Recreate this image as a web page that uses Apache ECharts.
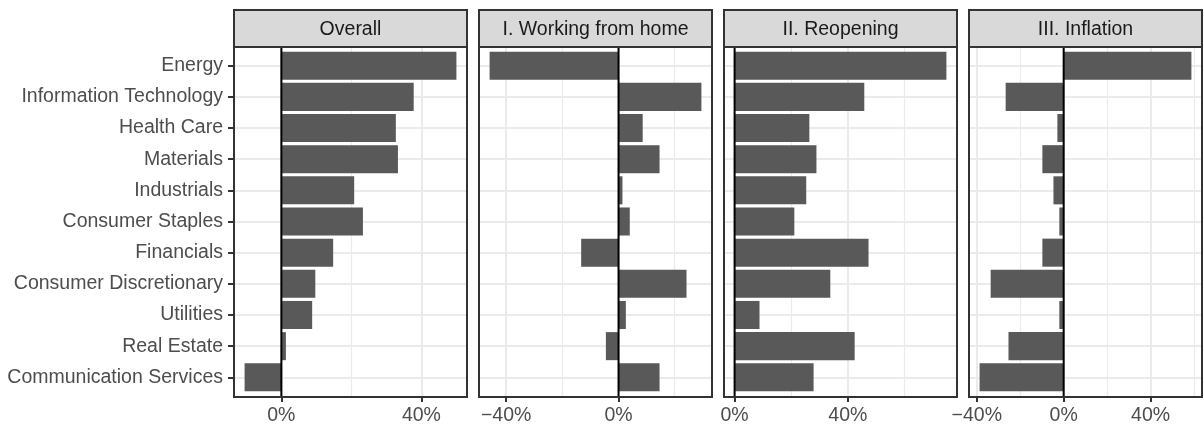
<!DOCTYPE html>
<html>
<head>
<meta charset="utf-8">
<title>Sector returns by regime</title>
<script src="https://cdn.jsdelivr.net/npm/echarts@6/dist/echarts.min.js"></script>
<style>
  html, body { margin: 0; padding: 0; background: #ffffff; }
  #chart { width: 1204px; height: 426px; }
</style>
</head>
<body>
<div id="chart"></div>
<script>
// ---- data -------------------------------------------------------------
const sectors = [
  'Energy', 'Information Technology', 'Health Care', 'Materials', 'Industrials',
  'Consumer Staples', 'Financials', 'Consumer Discretionary', 'Utilities',
  'Real Estate', 'Communication Services'
];
const panelTitles = ['Overall', 'I. Working from home', 'II. Reopening', 'III. Inflation'];

// returns in percent, one value per sector (same order as `sectors`)
const overall         = [50.0, 37.8, 32.7, 33.3, 20.8, 23.3, 14.8, 9.7, 8.8, 1.3, -10.5];
const workingFromHome = [-45.9, 29.5, 8.6, 14.6, 1.4, 4.0, -13.3, 24.2, 2.6, -4.5, 14.6];
const reopening       = [74.8, 45.8, 26.4, 28.9, 25.3, 21.1, 47.3, 33.8, 8.8, 42.4, 27.9];
const inflation       = [58.8, -26.7, -2.9, -9.8, -4.7, -2.0, -9.8, -33.6, -2.0, -25.4, -38.7];

const panelValues = [overall, workingFromHome, reopening, inflation];

// ---- layout -----------------------------------------------------------
const PANEL_LEFT = [234, 479, 724, 969];
const PANEL_W = 233;
const STRIP_TOP = 10;
const PANEL_TOP = 47;
const PANEL_H = 350;
const FONT = '"Liberation Sans", Arial, Helvetica, sans-serif';
const FS = 19.5;
const GRID_COLOR = '#EBEBEB';
const FRAME_COLOR = '#333333';
const BAR_COLOR = '#595959';

// discrete axis padded by 0.6 of a category on each side
const Y_MIN = -0.6;
const Y_MAX = sectors.length - 1 + 0.6;
const sectorIndex = sectors.map((_, i) => i);

function pctLabel(v) {
  const r = Math.round(v);
  return (r < 0 ? '\u2212' : '') + Math.abs(r) + '%';
}

// continuous axis range: data extent (incl. zero) widened by 5% each side
function paddedRange(vals) {
  const lo = Math.min(0, ...vals);
  const hi = Math.max(0, ...vals);
  const pad = (hi - lo) * 0.05;
  return [lo - pad, hi + pad];
}

function stepsWithin(range, step) {
  const out = [];
  for (let v = Math.ceil(range[0] / step) * step; v <= range[1] + 1e-9; v += step) out.push(v);
  return out;
}

const grids = [];
const xAxes = [];
const yAxes = [];
const series = [];
const graphics = [];

panelValues.forEach((vals, p) => {
  const range = paddedRange(vals);
  const major = stepsWithin(range, 40);
  const minor = stepsWithin(range, 20).filter(v => Math.abs(v % 40) > 1e-9);
  const left = PANEL_LEFT[p];

  grids.push({
    left: left, top: PANEL_TOP, width: PANEL_W, height: PANEL_H,
    show: false, containLabel: false
  });

  // major x axis (ticks, labels, major vertical grid)
  xAxes.push({
    type: 'value', gridIndex: p, position: 'bottom',
    min: range[0], max: range[1],
    axisLine: { show: false, onZero: false },
    axisTick: { show: true, customValues: major, length: 6, lineStyle: { color: FRAME_COLOR, width: 2 } },
    axisLabel: {
      show: true, customValues: major, formatter: pctLabel, margin: 10,
      color: '#4D4D4D', fontSize: FS, fontFamily: FONT
    },
    splitLine: { show: true, lineStyle: { color: GRID_COLOR, width: 2 } }
  });
  // minor x axis (minor vertical grid only)
  xAxes.push({
    type: 'value', gridIndex: p, position: 'top',
    min: range[0], max: range[1],
    axisLine: { show: false, onZero: false },
    axisTick: { show: false, customValues: minor },
    axisLabel: { show: false, customValues: minor },
    splitLine: { show: minor.length > 0, lineStyle: { color: GRID_COLOR, width: 1.2 } }
  });

  const first = p === 0;
  yAxes.push({
    type: 'value', gridIndex: p, inverse: true, position: 'left',
    min: Y_MIN, max: Y_MAX,
    axisLine: { show: false, onZero: false },
    axisTick: { show: first, customValues: sectorIndex, length: 6, lineStyle: { color: FRAME_COLOR, width: 2 } },
    axisLabel: {
      show: first, customValues: sectorIndex, margin: 11,
      formatter: v => sectors[Math.round(v)],
      color: '#4D4D4D', fontSize: FS, fontFamily: FONT
    },
    splitLine: { show: true, lineStyle: { color: GRID_COLOR, width: 2 } }
  });

  // bars
  series.push({
    type: 'custom', name: panelTitles[p],
    xAxisIndex: p * 2, yAxisIndex: p,
    data: vals.map((v, i) => [v, i]),
    encode: { x: 0, y: 1 },
    z: 2,
    renderItem: function (params, api) {
      const v = api.value(0);
      const c = api.value(1);
      const a = api.coord([0, c]);
      const b = api.coord([v, c]);
      const h = api.size([0, 0.9])[1];
      return {
        type: 'rect',
        shape: { x: Math.min(a[0], b[0]), y: a[1] - h / 2, width: Math.abs(b[0] - a[0]), height: h },
        style: { fill: BAR_COLOR }
      };
    }
  });

  // reference line at zero
  series.push({
    type: 'custom', name: 'zero',
    xAxisIndex: p * 2, yAxisIndex: p,
    data: [[0, 0]],
    encode: { x: 0, y: 1 },
    z: 3, silent: true,
    renderItem: function (params, api) {
      const t = api.coord([0, Y_MIN]);
      const b = api.coord([0, Y_MAX]);
      return {
        type: 'line',
        shape: { x1: t[0], y1: t[1], x2: b[0], y2: b[1] },
        style: { stroke: '#000000', lineWidth: 2 }
      };
    }
  });

  // panel frame
  graphics.push({
    type: 'rect', z: 100, silent: true,
    shape: { x: left, y: PANEL_TOP, width: PANEL_W, height: PANEL_H },
    style: { fill: null, stroke: FRAME_COLOR, lineWidth: 2 }
  });
  // facet strip
  graphics.push({
    type: 'rect', z: 100, silent: true,
    shape: { x: left, y: STRIP_TOP, width: PANEL_W, height: PANEL_TOP - STRIP_TOP },
    style: { fill: '#D9D9D9', stroke: FRAME_COLOR, lineWidth: 2 }
  });
  graphics.push({
    type: 'text', z: 101, silent: true,
    style: {
      text: panelTitles[p],
      x: left + PANEL_W / 2, y: (STRIP_TOP + PANEL_TOP) / 2 + 1,
      align: 'center', verticalAlign: 'middle',
      fill: '#1A1A1A', fontSize: FS, fontFamily: FONT
    }
  });
});

const chart = echarts.init(document.getElementById('chart'), null, { renderer: 'canvas' });
chart.setOption({
  animation: false,
  backgroundColor: '#ffffff',
  grid: grids,
  xAxis: xAxes,
  yAxis: yAxes,
  series: series,
  graphic: graphics
});
</script>
</body>
</html>
